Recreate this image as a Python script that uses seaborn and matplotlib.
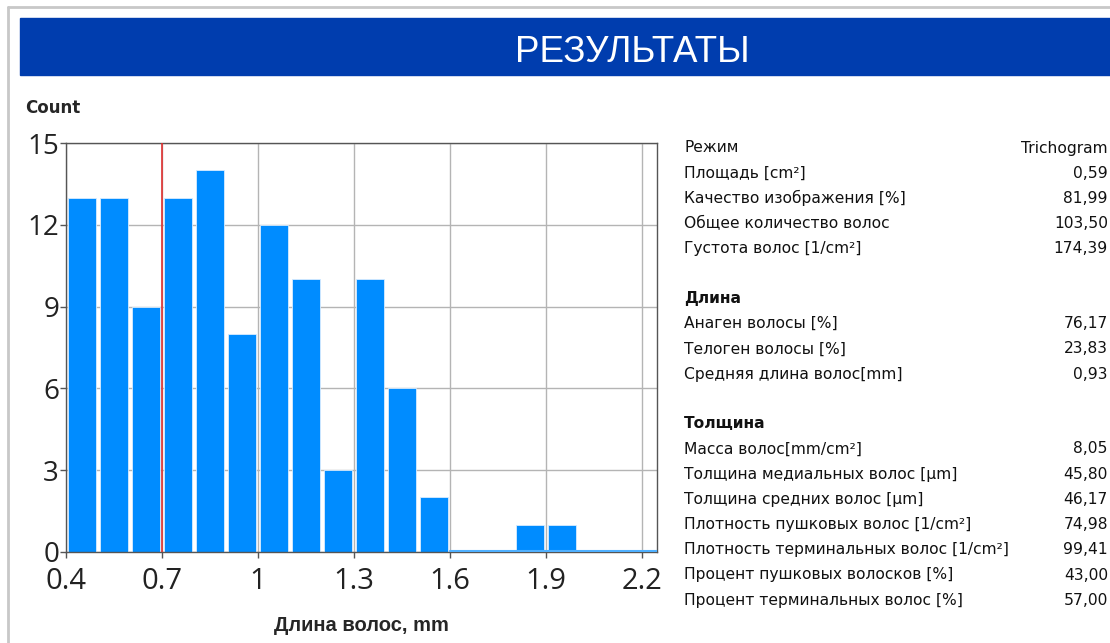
import numpy as np
import pandas as pd
import matplotlib
matplotlib.use("Agg")
import matplotlib.pyplot as plt
from matplotlib.patches import Rectangle
from matplotlib.lines import Line2D
import seaborn as sns

# histogram data (bin start, count), bin width 0.1 mm
bin_starts = [0.4, 0.5, 0.6, 0.7, 0.8, 0.9, 1.0, 1.1, 1.2, 1.3, 1.4, 1.5, 1.6, 1.7, 1.8, 1.9, 2.0, 2.1, 2.2]
counts = [13, 13, 9, 13, 14, 8, 12, 10, 3, 10, 6, 2, 0, 0, 1, 1, 0, 0, 0]
marker_x = 0.7
xticks = [0.4, 0.7, 1.0, 1.3, 1.6, 1.9, 2.2]
xtick_labels = ["0.4", "0.7", "1", "1.3", "1.6", "1.9", "2.2"]
yticks = [0, 3, 6, 9, 12, 15]

labels = ["Режим", "Площадь [cm²]", "Качество изображения [%]", "Общее количество волос",
          "Густота волос [1/cm²]", None, "Длина", "Анаген волосы [%]", "Телоген волосы [%]",
          "Средняя длина волос[mm]", None, "Толщина", "Масса волос[mm/cm²]",
          "Толщина медиальных волос [µm]", "Толщина средних волос [µm]",
          "Плотность пушковых волос [1/cm²]", "Плотность терминальных волос [1/cm²]",
          "Процент пушковых волосков [%]", "Процент терминальных волос [%]"]
values = ["Trichogram", "0,59", "81,99", "103,50", "174,39", None, "", "76,17", "23,83",
          "0,93", None, "", "8,05", "45,80", "46,17", "74,98", "99,41", "43,00", "57,00"]
headers = ["Длина", "Толщина"]

sns.set_style("white")

df = pd.DataFrame({"start": bin_starts, "count": counts})
df["center"] = df["start"] + 0.05
edges = [b for b in bin_starts] + [2.3]

fig = plt.figure(figsize=(11.1, 6.43), dpi=100)
W, H = 1110, 643

# outer frame lines
fig.add_artist(Line2D([8 / W, 1], [1 - 7 / H, 1 - 7 / H], color="#c8c8c8", lw=2))
fig.add_artist(Line2D([8 / W, 8 / W], [0, 1 - 7 / H], color="#c8c8c8", lw=2))

# title banner
fig.add_artist(Rectangle((20 / W, 1 - 75 / H), 1 - 20 / W, 57 / H, color="#003dae",
                         transform=fig.transFigure))
fig.text(632 / W, 1 - 52 / H, "РЕЗУЛЬТАТЫ", color="white", fontsize=26.5,
         family="Liberation Sans", ha="center", va="center")

ax = fig.add_axes([66 / W, 1 - 552 / H, 591 / W, 409 / H])
sns.histplot(data=df, x="center", weights="count", bins=edges, shrink=0.88,
             color="#008cff", alpha=1, edgecolor="#d8ecff", linewidth=0.6, ax=ax)
# zero-count bins drawn as a thin light line on the baseline
ax.plot([1.6, 2.247], [0.05, 0.05], color="#4fb0ff", lw=1.5, zorder=3)
ax.axvline(marker_x, color="#e03030", lw=1.2, zorder=5)

ax.set_xlim(0.4, 2.247)
ax.set_ylim(0, 15)
ax.set_xticks(xticks)
ax.set_xticklabels(xtick_labels)
ax.set_yticks(yticks)
ax.grid(True, color="#b4b4b4", lw=1)
ax.set_axisbelow(True)
for s in ax.spines.values():
    s.set_color("#555555")
    s.set_linewidth(1)
ax.tick_params(axis="both", direction="out", length=4, width=1, color="#555555",
               labelsize=21, bottom=True, left=True)
ax.tick_params(axis="x", pad=7)
ax.tick_params(axis="y", pad=1, labelsize=20)
for t in ax.get_xticklabels() + ax.get_yticklabels():
    t.set_family("Open Sans")
    t.set_color("#222222")
ax.set_xlabel("Длина волос, mm", fontsize=14.5, fontweight="bold", family="Liberation Sans",
              labelpad=14)
ax.set_ylabel("")
fig.text(25 / W, 1 - 108 / H, "Count", fontsize=12, fontweight="bold", family="DejaVu Sans",
         va="center", ha="left")

# results table
y = 148
for lab, val in zip(labels, values):
    if lab is None:
        y += 24.5
        continue
    bold = lab in headers
    fig.text(684 / W, 1 - y / H, lab, fontsize=11.2, family="DejaVu Sans",
             fontweight="bold" if bold else "normal", va="center", ha="left", color="#111111")
    if val:
        fig.text(1108 / W, 1 - y / H, val, fontsize=11.2, family="DejaVu Sans",
                 va="center", ha="right", color="#111111")
    y += 25.2

fig.savefig("out.png", dpi=100)
